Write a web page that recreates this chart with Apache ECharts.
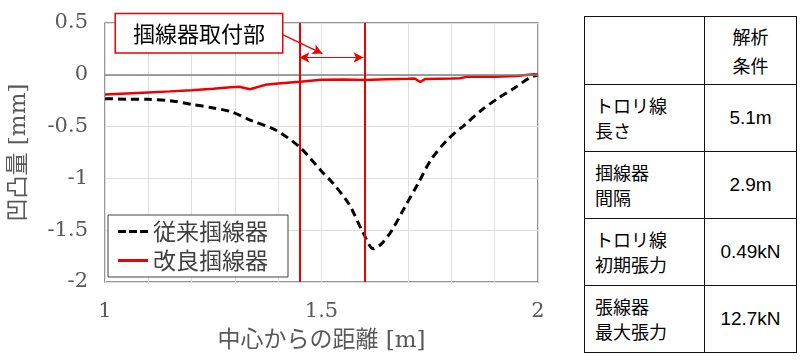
<!DOCTYPE html>
<html>
<head>
<meta charset="utf-8">
<script src="https://cdn.jsdelivr.net/npm/echarts@6/dist/echarts.min.js"></script>
<style>
  html, body { margin: 0; padding: 0; background: #fff; }
  #wrap { position: relative; width: 800px; height: 360px; }
  #chart { position: absolute; left: 0; top: 0; width: 570px; height: 360px; }
  #tbl { position: absolute; left: 584px; top: 16px; border-collapse: collapse;
         font-family: "Noto Sans CJK JP", sans-serif; color: #000; }
  #tbl td { border: 1.5px solid #111; padding: 0; height: 66px; }
  #tbl td.k { width: 109px; padding-left: 10px; font-size: 18px; line-height: 25px; text-align: left; }
  #tbl td.v { width: 91px; text-align: center; font-size: 19px; font-family: "Liberation Sans", Arial, sans-serif; }
  #tbl td.h { text-align: center; font-size: 18px; line-height: 29px; font-family: "Noto Sans CJK JP", sans-serif; }
</style>
</head>
<body>
<div id="wrap">
  <div id="chart"></div>
  <table id="tbl"></table>
</div>
<script>
// ---- data ----
const seriesNames = ['従来掴線器', '改良掴線器'];
const conventional = [
  [1.00,-0.23],[1.05,-0.235],[1.10,-0.237],[1.15,-0.25],[1.20,-0.285],[1.25,-0.32],
  [1.29,-0.355],[1.34,-0.445],[1.395,-0.535],[1.45,-0.70],[1.50,-0.93],[1.525,-1.04],
  [1.563,-1.245],[1.594,-1.505],[1.62,-1.68],[1.639,-1.63],[1.662,-1.505],[1.692,-1.28],
  [1.723,-1.05],[1.753,-0.82],[1.79,-0.63],[1.83,-0.485],[1.87,-0.34],[1.91,-0.22],
  [1.945,-0.13],[1.98,-0.03],[2.00,0]
];
const improved = [
  [1.00,-0.19],[1.05,-0.18],[1.10,-0.17],[1.15,-0.16],[1.20,-0.148],[1.25,-0.135],
  [1.29,-0.12],[1.31,-0.115],[1.335,-0.14],[1.37,-0.097],[1.40,-0.085],[1.45,-0.068],
  [1.50,-0.048],[1.55,-0.045],[1.60,-0.05],[1.65,-0.042],[1.70,-0.037],[1.715,-0.035],
  [1.728,-0.07],[1.74,-0.04],[1.80,-0.035],[1.82,-0.033],[1.835,-0.02],[1.90,-0.02],
  [1.95,-0.012],[1.99,0.005],[2.00,0]
];
const attachPositions = [1.449, 1.597];
const annotationText = '掴線器取付部';
const annotationAt = [1.217, 0.40];
const leaderFrom = [1.404, 0.40];
const leaderTo = [1.502, 0.205];
const spanY = 0.167;
const xRange = [1, 2, 0.5];
const yRange = [-2, 0.5, 0.5];
const xName = '中心からの距離 [m]';
const yName = '凹凸量 [mm]';
const tableHeader = ['', '解析<br>条件'];
const tableKeys = ['トロリ線<br>長さ', '掴線器<br>間隔', 'トロリ線<br>初期張力', '張線器<br>最大張力'];
const tableValues = ['5.1m', '2.9m', '0.49kN', '12.7kN'];

// ---- table ----
const tbl = document.getElementById('tbl');
let html = '<tr><td class="k"></td><td class="h" style="height:67px">' + tableHeader[1] + '</td></tr>';
tableKeys.forEach((k, i) => {
  html += '<tr><td class="k">' + k + '</td><td class="v">' + tableValues[i] + '</td></tr>';
});
tbl.innerHTML = html;

// ---- chart ----
const serif = 'DejaVu Serif, Noto Sans CJK JP';
const sans = 'Noto Sans CJK JP';
const dashIcon = 'path://M0,0h8v3h-8z M11,0h8v3h-8z M22,0h8v3h-8z';
const solidIcon = 'path://M0,0h30v3h-30z';
const chart = echarts.init(document.getElementById('chart'), null, { renderer: 'canvas' });
chart.setOption({
  animation: false,
  grid: { left: 100, top: 23, width: 438, height: 259, show: true,
          borderColor: '#777', borderWidth: 1.5, backgroundColor: 'transparent' },
  legend: {
    data: [
      { name: seriesNames[0], icon: dashIcon, itemStyle: { color: '#000' } },
      { name: seriesNames[1], icon: solidIcon, itemStyle: { color: '#ee0000' } }
    ],
    orient: 'vertical', left: 108, top: 215,
    padding: [5, 20, 5, 10], itemGap: 6, itemWidth: 30, itemHeight: 3,
    borderColor: '#404040', borderWidth: 1, backgroundColor: '#fff',
    textStyle: { fontFamily: sans, fontSize: 23, color: '#404040' }
  },
  xAxis: {
    type: 'value', min: xRange[0], max: xRange[1], interval: xRange[2],
    name: xName, nameLocation: 'middle', nameGap: 48,
    nameTextStyle: { fontFamily: serif, fontSize: 23, color: '#595959' },
    axisLine: { show: false }, axisTick: { show: false },
    axisLabel: { margin: 19, fontFamily: serif, fontSize: 21, color: '#595959' },
    splitLine: { show: true, lineStyle: { color: '#dedede', width: 1 } },
    minorTick: { show: false, splitNumber: 5 },
    minorSplitLine: { show: true, lineStyle: { color: '#dedede', width: 1 } }
  },
  yAxis: {
    type: 'value', min: yRange[0], max: yRange[1], interval: yRange[2],
    name: yName, nameLocation: 'middle', nameGap: 74,
    nameTextStyle: { fontFamily: serif, fontSize: 23, color: '#595959' },
    axisLine: { show: false }, axisTick: { show: false },
    axisLabel: { margin: 17, fontFamily: serif, fontSize: 21, color: '#595959' },
    splitLine: { show: true, lineStyle: { color: '#dedede', width: 1 } }
  },
  series: [
    {
      name: seriesNames[0], type: 'line', data: conventional, symbol: 'none', showSymbol: false,
      smooth: 0.3, color: '#000',
      lineStyle: { color: '#000', width: 3, type: [8, 5] }, z: 3
    },
    {
      name: seriesNames[1], type: 'line', data: improved, symbol: 'none', showSymbol: false,
      color: '#ee0000',
      lineStyle: { color: '#ee0000', width: 2.5 }, z: 4,
      markLine: {
        silent: true, symbol: 'none', label: { show: false },
        data: [
          [{ coord: [xRange[0], 0], lineStyle: { color: '#808080', width: 1.5, type: 'solid' } }, { coord: [xRange[1], 0] }],
          { xAxis: attachPositions[0], lineStyle: { color: '#ee0000', width: 2, type: 'solid' } },
          { xAxis: attachPositions[1], lineStyle: { color: '#ee0000', width: 2, type: 'solid' } },
          [{ coord: [attachPositions[0], spanY], symbol: 'arrow', symbolSize: [8, 10], lineStyle: { color: '#ee0000', width: 1, type: 'solid' } },
           { coord: [attachPositions[1], spanY], symbol: 'arrow', symbolSize: [8, 10] }],
          [{ coord: leaderFrom, symbol: 'none', lineStyle: { color: '#ee0000', width: 1.3, type: 'solid' } },
           { coord: leaderTo, symbol: 'arrow', symbolSize: [8, 10] }]
        ]
      },
      markPoint: {
        silent: true, symbol: 'rect', symbolSize: 1, itemStyle: { color: 'rgba(0,0,0,0)' },
        data: [{ coord: annotationAt, value: annotationText }],
        label: {
          show: true, position: 'inside', formatter: annotationText,
          fontFamily: sans, fontSize: 22, color: '#000', lineHeight: 26,
          backgroundColor: '#fff', borderColor: '#ee0000', borderWidth: 1.5,
          padding: [6, 17]
        }
      }
    }
  ]
});
</script>
</body>
</html>
